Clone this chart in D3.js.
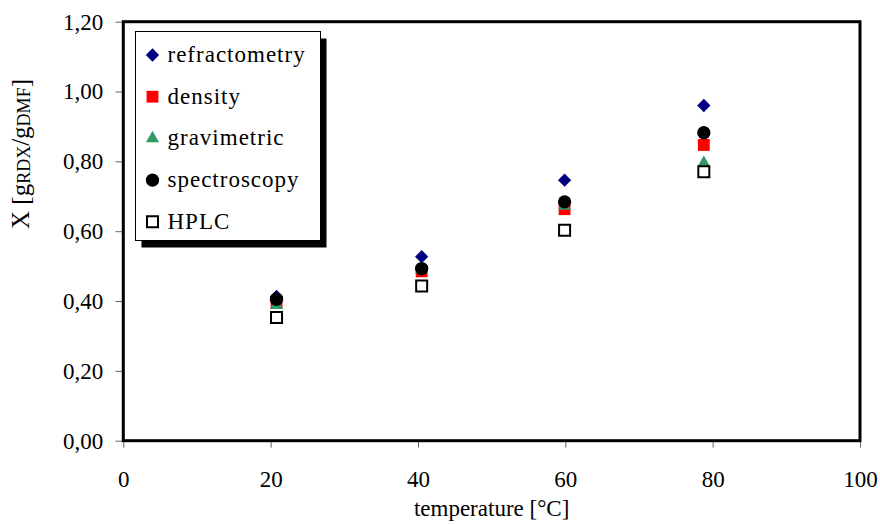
<!DOCTYPE html>
<html>
<head>
<meta charset="utf-8">
<script src="https://cdn.jsdelivr.net/npm/d3@7"></script>
<style>
  body { margin: 0; background: #fff; }
  text { font-family: "Liberation Serif", "DejaVu Serif", serif; }
</style>
</head>
<body>
<div id="chart"></div>
<script>
const temps = [20.8, 40.5, 59.9, 78.8]
const refractometry = [0.413, 0.527, 0.746, 0.960]
const density = [0.395, 0.485, 0.663, 0.847]
const gravimetric = [0.388, 0.490, 0.672, 0.795]
const spectroscopy = [0.405, 0.493, 0.684, 0.882]
const hplc = [0.353, 0.443, 0.603, 0.770]
const seriesNames = ['refractometry', 'density', 'gravimetric', 'spectroscopy', 'HPLC']
const xTicks = [0, 20, 40, 60, 80, 100]
const yTicks = [0, 0.2, 0.4, 0.6, 0.8, 1.0, 1.2]

const w = 880, h = 524
const margin = { top: 21.7, right: 20, bottom: 83.3, left: 123.3 }

const svg = d3.select('#chart').append('svg').attr('width', w).attr('height', h)

const x = d3.scaleLinear().domain([0, 100]).range([margin.left, w - margin.right])
const y = d3.scaleLinear().domain([0, 1.2]).range([h - margin.bottom, margin.top])

const fmt = v => d3.format('.2f')(v).replace('.', ',')

// axes
const xAxis = svg.append('g').attr('transform', `translate(0,${y(0)})`)
    .call(d3.axisBottom(x).tickValues(xTicks).tickSize(7).tickPadding(23).tickFormat(d3.format('d')))
const yAxis = svg.append('g').attr('transform', `translate(${x(0)},0)`)
    .call(d3.axisLeft(y).tickValues(yTicks).tickSize(8).tickPadding(12).tickFormat(fmt))
;[xAxis, yAxis].forEach(a => {
    a.select('.domain').remove()
    a.selectAll('.tick line').attr('stroke', '#666').attr('stroke-width', 1)
    a.selectAll('.tick text').attr('fill', '#000').attr('font-size', '23px')
        .attr('font-family', '"Liberation Serif", serif')
})

// plot frame
svg.append('rect')
    .attr('x', x(0)).attr('y', y(1.2))
    .attr('width', x(100) - x(0)).attr('height', y(0) - y(1.2))
    .attr('fill', 'none').attr('stroke', '#000').attr('stroke-width', 3)

// axis titles
svg.append('text')
    .attr('x', (x(0) + x(100)) / 2).attr('y', 516)
    .attr('text-anchor', 'middle').attr('font-size', '23px')
    .text('temperature [°C]')

const yt = svg.append('text')
    .attr('transform', 'translate(29,154) rotate(-90)')
    .attr('text-anchor', 'middle').attr('font-size', '25px')
yt.append('tspan').text('X [g')
yt.append('tspan').attr('font-size', '18px').attr('dy', 1).text('RDX')
yt.append('tspan').attr('dy', -1).text('/g')
yt.append('tspan').attr('font-size', '18px').attr('dy', 1).text('DMF')
yt.append('tspan').attr('dy', -1).text(']')

// marker shapes
const diamond = d3.symbol().type(d3.symbolSquare).size(88)
const square = d3.symbol().type(d3.symbolSquare).size(140)
const triangle = d3.symbol().type(d3.symbolTriangle).size(75)
const circle = d3.symbol().type(d3.symbolCircle).size(140)
const hollow = d3.symbol().type(d3.symbolSquare).size(121)

const styles = [
    { path: diamond(), rot: 45, fill: '#000080', stroke: 'none' },
    { path: square(), rot: 0, fill: '#ff0000', stroke: 'none' },
    { path: triangle(), rot: 0, fill: '#339966', stroke: 'none' },
    { path: circle(), rot: 0, fill: '#000', stroke: 'none' },
    { path: hollow(), rot: 0, fill: 'none', stroke: '#000', sw: 2 }
]
const allSeries = [refractometry, density, gravimetric, spectroscopy, hplc]

allSeries.forEach((vals, i) => {
    const s = styles[i]
    svg.append('g').selectAll('path')
        .data(vals).enter()
        .append('path')
        .attr('d', s.path)
        .attr('transform', (d, j) => `translate(${x(temps[j])},${y(d)}) rotate(${s.rot})`)
        .attr('fill', s.fill)
        .attr('stroke', s.stroke)
        .attr('stroke-width', s.sw || 0)
})

// legend
const lg = svg.append('g').attr('transform', 'translate(135.5,31.5)')
lg.append('rect').attr('x', 6).attr('y', 7).attr('width', 185).attr('height', 209).attr('fill', '#000')
lg.append('rect').attr('width', 185).attr('height', 209)
    .attr('fill', '#fff').attr('stroke', '#000').attr('stroke-width', 1)

seriesNames.forEach((name, i) => {
    const s = styles[i]
    const row = lg.append('g').attr('transform', `translate(0,${23.5 + i * 41.7})`)
    row.append('path').attr('d', s.path)
        .attr('transform', `translate(17,0) rotate(${s.rot})`)
        .attr('fill', s.fill).attr('stroke', s.stroke).attr('stroke-width', s.sw || 0)
    row.append('text').attr('x', 32).attr('y', 7)
        .attr('font-size', '23px').attr('letter-spacing', '1px')
        .text(name)
})
</script>
</body>
</html>
